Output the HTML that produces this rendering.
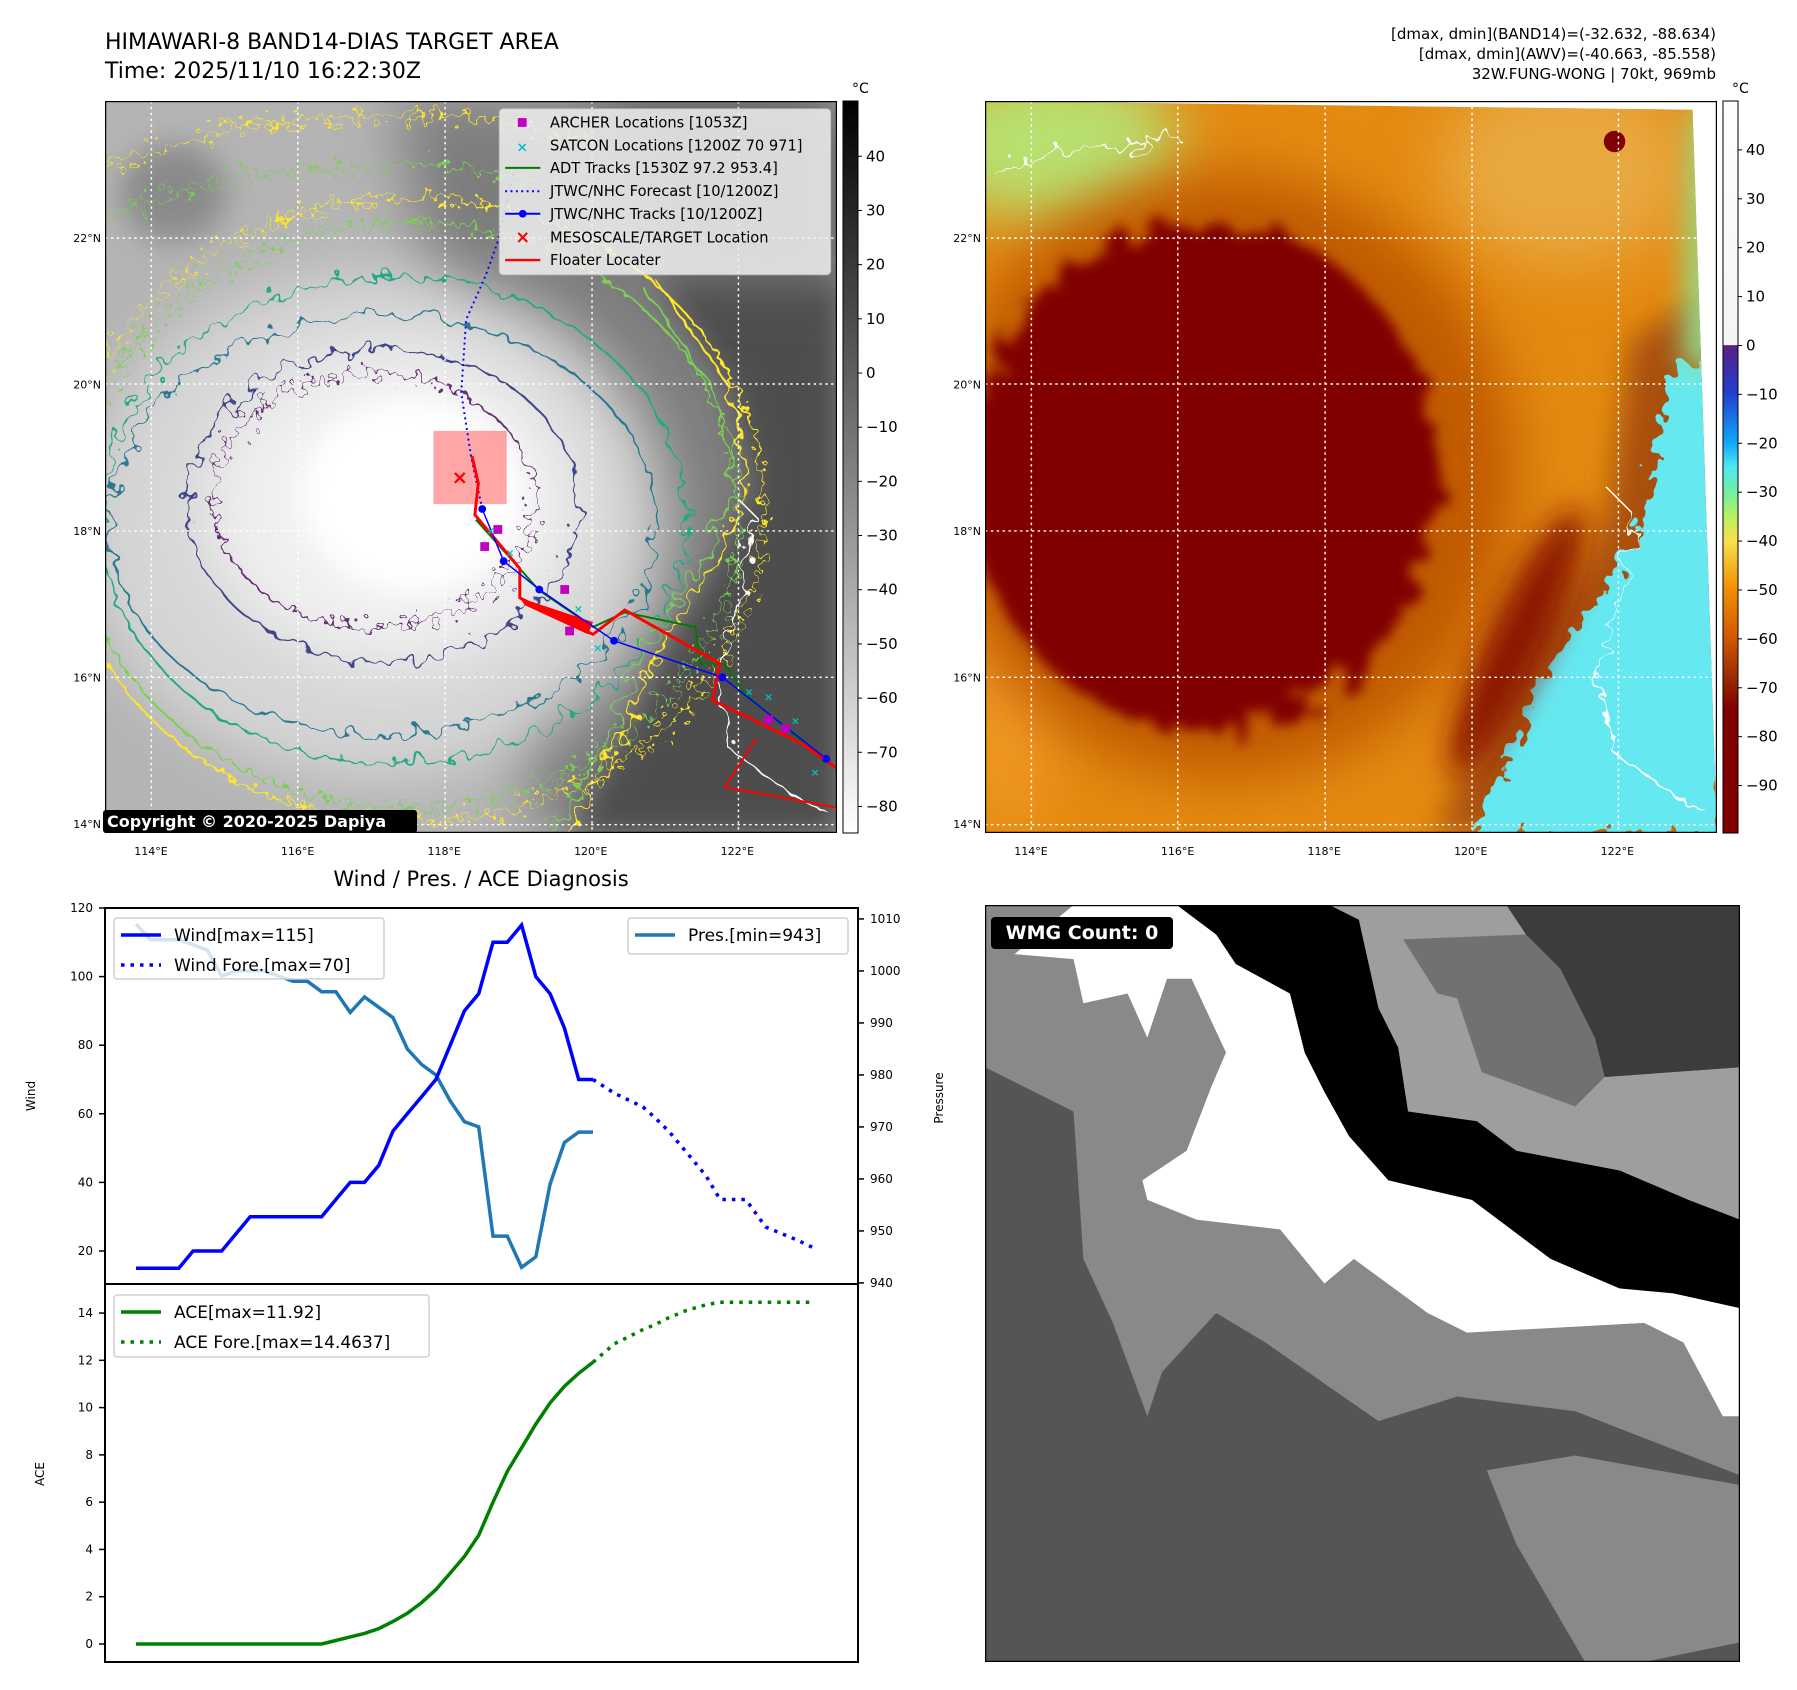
<!DOCTYPE html>
<html><head><meta charset="utf-8">
<style>
html,body{margin:0;padding:0;background:#fff;}
#root{position:relative;width:1797px;height:1690px;overflow:hidden;background:#fff;font-family:"DejaVu Sans","Liberation Sans",sans-serif;}
.abs{position:absolute;}
</style></head>
<body>
<div id="root">

<div class="abs" style="left:105px;top:28px;font-size:22px;line-height:29px;color:#000;">HIMAWARI-8 BAND14-DIAS TARGET AREA<br>Time: 2025/11/10 16:22:30Z</div>
<div class="abs" style="right:81px;top:24px;font-size:15px;line-height:20px;text-align:right;color:#000;">[dmax, dmin](BAND14)=(-32.632, -88.634)<br>[dmax, dmin](AWV)=(-40.663, -85.558)<br>32W.FUNG-WONG | 70kt, 969mb</div>

<!-- LEFT MAP -->
<svg class="abs" style="left:105px;top:101px" width="732" height="732" viewBox="10 12 1500 1500" preserveAspectRatio="none">
<defs>
<filter id="blur30" filterUnits="userSpaceOnUse" x="-600" y="-600" width="2800" height="2800"><feGaussianBlur stdDeviation="30"/></filter>
<filter id="blur60" filterUnits="userSpaceOnUse" x="-600" y="-600" width="2800" height="2800"><feGaussianBlur stdDeviation="60"/></filter>
<filter id="wig" filterUnits="userSpaceOnUse" x="-600" y="-600" width="2800" height="2800"><feTurbulence type="fractalNoise" baseFrequency="0.03" numOctaves="2" seed="3"/><feDisplacementMap in="SourceGraphic" scale="60"/></filter>
<filter id="wig2" filterUnits="userSpaceOnUse" x="-600" y="-600" width="2800" height="2800"><feTurbulence type="fractalNoise" baseFrequency="0.05" numOctaves="2" seed="7"/><feDisplacementMap in="SourceGraphic" scale="80"/></filter>
<clipPath id="mclip"><rect x="10" y="12" width="1500" height="1500"/></clipPath>
</defs>
<g clip-path="url(#mclip)">
<rect x="0" y="0" width="1520" height="1520" fill="#b4b4b4"/>
<path d="M600,0 L1520,0 L1520,1520 L900,1520 Z" fill="#7d7d7d" filter="url(#blur60)"/>
<path d="M1150,380 L1290,600 L1340,800 L1270,950 L1150,1120 L1080,1300 L960,1520 L1520,1520 L1520,380 Z" fill="#4e4e4e" filter="url(#blur30)"/>
<path d="M1000,0 L1520,0 L1520,400 L1200,380 Z" fill="#5e5e5e" filter="url(#blur60)"/>
<ellipse cx="560" cy="880" rx="600" ry="520" fill="#d6d6d6" filter="url(#blur60)"/>
<ellipse cx="600" cy="840" rx="380" ry="330" fill="#f0f0f0" filter="url(#blur60)"/>
<ellipse cx="640" cy="820" rx="230" ry="200" fill="#ffffff" filter="url(#blur30)"/>
<ellipse cx="150" cy="200" rx="110" ry="100" fill="#8a8a8a" filter="url(#blur30)"/>
<g fill="none" stroke-width="4">
<ellipse cx="640" cy="850" rx="720" ry="640" stroke="#fde725" filter="url(#wig2)"/>
<ellipse cx="630" cy="860" rx="680" ry="600" stroke="#7ad151" filter="url(#wig2)"/>
<ellipse cx="600" cy="870" rx="600" ry="500" stroke="#22a884" filter="url(#wig)"/>
<ellipse cx="580" cy="880" rx="560" ry="430" stroke="#2a788e" filter="url(#wig)"/>
<ellipse cx="580" cy="840" rx="400" ry="320" stroke="#414487" filter="url(#wig)"/>
<ellipse cx="560" cy="830" rx="330" ry="260" stroke="#440154" filter="url(#wig2)" opacity="0.8"/>
<path d="M1140,380 L1290,600 L1330,800 L1270,950 L1150,1120 L1080,1300 L960,1510" stroke="#fde725" filter="url(#wig)"/>
<path d="M1120,400 L1260,610 L1300,800 L1240,950 L1120,1120 L1050,1300 L930,1510" stroke="#7ad151" filter="url(#wig)"/>
<path d="M0,150 L300,60 L700,40 L1000,80" stroke="#fde725" filter="url(#wig2)"/>
<path d="M0,250 L300,160 L700,140 L1000,200" stroke="#7ad151" filter="url(#wig2)"/>
<path d="M1300,820 L1340,860 L1320,1000 L1260,1200 L1300,1350 L1400,1420 L1500,1480" stroke="#fff" stroke-width="3" filter="url(#wig)"/>
</g>
</g>
<g stroke="#fff" stroke-width="3" stroke-dasharray="5 7">
<line x1="105" y1="12" x2="105" y2="1512"/><line x1="405" y1="12" x2="405" y2="1512"/><line x1="707" y1="12" x2="707" y2="1512"/><line x1="1008" y1="12" x2="1008" y2="1512"/><line x1="1308" y1="12" x2="1308" y2="1512"/>
<line x1="10" y1="293" x2="1510" y2="293"/><line x1="10" y1="592" x2="1510" y2="592"/><line x1="10" y1="893" x2="1510" y2="893"/><line x1="10" y1="1193" x2="1510" y2="1193"/><line x1="10" y1="1495" x2="1510" y2="1495"/>
</g>
<rect x="683" y="688" width="150" height="150" fill="#ff5050" opacity="0.5"/>
<polyline points="783,848 760,740 740,610 750,460 790,370 815,300 830,230 850,150" fill="none" stroke="#0000ff" stroke-width="4" stroke-dasharray="4 7"/>
<polyline points="770,870 900,1015 1010,1090 1075,1060 1220,1090 1230,1165 1280,1165 1320,1225 1490,1370" fill="none" stroke="#007a00" stroke-width="4"/>
<polyline points="762,740 775,795 768,860 860,970 860,1030 1010,1105 1075,1055 1270,1165 1255,1240 1440,1330 1510,1380" fill="none" stroke="#ff0000" stroke-width="6"/>
<path d="M860,1030 L1010,1080 L1000,1105 L870,1045 Z" fill="#ff0000"/>
<polyline points="1345,1318 1280,1418 1510,1460 M1345,1318 1510,1420" fill="none" stroke="#ff0000" stroke-width="4"/>
<polyline points="783,848 827,955 900,1013 1053,1118 1275,1193 1488,1360" fill="none" stroke="#0000ff" stroke-width="3"/>
<g fill="#0000ff"><circle cx="783" cy="848" r="8"/><circle cx="827" cy="955" r="8"/><circle cx="900" cy="1013" r="8"/><circle cx="1053" cy="1118" r="8"/><circle cx="1275" cy="1193" r="8"/><circle cx="1488" cy="1360" r="8"/></g>
<g fill="#c000c0"><rect x="806" y="881" width="18" height="18"/><rect x="779" y="916" width="18" height="18"/><rect x="943" y="1004" width="18" height="18"/><rect x="953" y="1089" width="18" height="18"/><rect x="1361" y="1271" width="18" height="18"/><rect x="1396" y="1289" width="18" height="18"/></g>
<g fill="#00c0c0" font-size="22" font-weight="bold" text-anchor="middle"><text x="800" y="900">×</text><text x="840" y="945">×</text><text x="980" y="1060">×</text><text x="1020" y="1140">×</text><text x="1330" y="1230">×</text><text x="1370" y="1240">×</text><text x="1425" y="1290">×</text><text x="1465" y="1395">×</text></g>
<text x="737" y="797" fill="#ff0000" font-size="40" font-weight="bold" text-anchor="middle">×</text>
<g>
<rect x="818" y="28" width="679" height="340" rx="8" fill="#f0f0f0" opacity="0.85" stroke="#ccc" stroke-width="2"/>
<g font-size="30" fill="#000" font-family="DejaVu Sans, sans-serif">
<rect x="856" y="47" width="18" height="18" fill="#c000c0"/><text x="922" y="66">ARCHER Locations [1053Z]</text>
<text x="865" y="115" fill="#00c0c0" font-size="28" font-weight="bold" text-anchor="middle">×</text><text x="922" y="113">SATCON Locations [1200Z 70 971]</text>
<line x1="830" y1="149" x2="902" y2="149" stroke="#007a00" stroke-width="4"/><text x="922" y="160">ADT Tracks [1530Z 97.2 953.4]</text>
<line x1="830" y1="197" x2="902" y2="197" stroke="#0000ff" stroke-width="4" stroke-dasharray="4 7"/><text x="922" y="207">JTWC/NHC Forecast [10/1200Z]</text>
<line x1="830" y1="243" x2="902" y2="243" stroke="#0000ff" stroke-width="4"/><circle cx="866" cy="243" r="8" fill="#0000ff"/><text x="922" y="254">JTWC/NHC Tracks [10/1200Z]</text>
<text x="866" y="303" fill="#ff0000" font-size="36" font-weight="bold" text-anchor="middle">×</text><text x="922" y="302">MESOSCALE/TARGET Location</text>
<line x1="830" y1="338" x2="902" y2="338" stroke="#ff0000" stroke-width="5"/><text x="922" y="348">Floater Locater</text>
</g></g>
<rect x="10" y="12" width="1500" height="1500" fill="none" stroke="#000" stroke-width="5"/>
</svg>
<div class="abs" style="left:103px;top:810px;width:314px;height:23px;background:#000;color:#fff;font-weight:bold;font-size:16px;line-height:23px;padding-left:4px;box-sizing:border-box;border-radius:3px;">Copyright © 2020-2025 Dapiya</div>

<!-- RIGHT MAP -->
<svg class="abs" style="left:985px;top:101px" width="732" height="732" viewBox="10 12 1500 1500" preserveAspectRatio="none">
<defs>
<filter id="rb30" filterUnits="userSpaceOnUse" x="-600" y="-600" width="2800" height="2800"><feGaussianBlur stdDeviation="30"/></filter>
<filter id="rb60" filterUnits="userSpaceOnUse" x="-600" y="-600" width="2800" height="2800"><feGaussianBlur stdDeviation="60"/></filter>
<filter id="rwig" filterUnits="userSpaceOnUse" x="-600" y="-600" width="2800" height="2800"><feTurbulence type="fractalNoise" baseFrequency="0.03" numOctaves="2" seed="5"/><feDisplacementMap in="SourceGraphic" scale="70"/></filter>
<filter id="rwigb" filterUnits="userSpaceOnUse" x="-600" y="-600" width="2800" height="2800"><feTurbulence type="fractalNoise" baseFrequency="0.02" numOctaves="2" seed="9"/><feDisplacementMap in="SourceGraphic" scale="120"/><feGaussianBlur stdDeviation="12"/></filter>
<clipPath id="rclip"><path d="M10,12 L1460,30 L1510,1512 L10,1512 Z"/></clipPath>
</defs>
<g clip-path="url(#rclip)">
<rect x="0" y="0" width="1520" height="1520" fill="#e48a10"/>
<ellipse cx="150" cy="100" rx="260" ry="160" fill="#b8e070" filter="url(#rb60)"/>
<ellipse cx="1200" cy="150" rx="260" ry="200" fill="#e8a840" filter="url(#rb60)"/>
<ellipse cx="60" cy="1100" rx="120" ry="400" fill="#f09820" filter="url(#rb60)"/>
<path d="M1334,500 L1287,855 L1250,950 L1121,1115 L933,1512 L1510,1512 L1510,400 Z" fill="#a85010" filter="url(#rb30)"/>
<path d="M1420,560 L1360,860 L1300,980 L1180,1140 L1010,1512 L1520,1512 L1520,520 Z" fill="#66e8f0" filter="url(#rwig)"/>
<path d="M1460,30 L1520,30 L1520,560 L1440,560 Z" fill="#90e090" filter="url(#rb30)"/>
<ellipse cx="500" cy="780" rx="600" ry="620" fill="#c05a00" filter="url(#rb60)"/>
<ellipse cx="460" cy="780" rx="480" ry="520" fill="#800000" filter="url(#rwigb)"/>
<ellipse cx="420" cy="820" rx="400" ry="440" fill="#800000" filter="url(#rb30)"/>
<ellipse cx="1100" cy="1120" rx="60" ry="300" fill="#8a1800" filter="url(#rb30)" transform="rotate(25 1100 1120)"/>
<circle cx="1300" cy="95" r="22" fill="#800000"/>
<path d="M1300,820 L1340,860 L1320,1000 L1260,1200 L1300,1350 L1400,1420 L1500,1480" fill="none" stroke="#fff" stroke-width="3" filter="url(#rwig)"/>
<path d="M30,160 L150,120 L300,110 L400,80" fill="none" stroke="#fff" stroke-width="3" filter="url(#rwig)"/>
</g>
<g stroke="#fff" stroke-width="3" stroke-dasharray="5 7">
<line x1="105" y1="12" x2="105" y2="1512"/><line x1="405" y1="12" x2="405" y2="1512"/><line x1="707" y1="12" x2="707" y2="1512"/><line x1="1008" y1="12" x2="1008" y2="1512"/><line x1="1308" y1="12" x2="1308" y2="1512"/>
<line x1="10" y1="293" x2="1510" y2="293"/><line x1="10" y1="592" x2="1510" y2="592"/><line x1="10" y1="893" x2="1510" y2="893"/><line x1="10" y1="1193" x2="1510" y2="1193"/><line x1="10" y1="1495" x2="1510" y2="1495"/>
</g>
<rect x="10" y="12" width="1500" height="1500" fill="none" stroke="#000" stroke-width="5"/>
</svg>

<!-- colorbars -->
<svg class="abs" style="left:0;top:0" width="1797" height="1690">
<defs>
<linearGradient id="gbar" x1="0" y1="0" x2="0" y2="1"><stop offset="0" stop-color="#000"/><stop offset="1" stop-color="#fff"/></linearGradient>
<linearGradient id="cbar" x1="0" y1="0" x2="0" y2="1">
<stop offset="0" stop-color="#ffffff"/><stop offset="0.333" stop-color="#f4f4f4"/>
<stop offset="0.334" stop-color="#5a2080"/><stop offset="0.40" stop-color="#2040d0"/>
<stop offset="0.467" stop-color="#10a8f8"/><stop offset="0.50" stop-color="#50e8f0"/>
<stop offset="0.534" stop-color="#70f0a0"/><stop offset="0.567" stop-color="#b8f060"/>
<stop offset="0.60" stop-color="#f8e050"/><stop offset="0.667" stop-color="#f09000"/>
<stop offset="0.734" stop-color="#d05800"/><stop offset="0.80" stop-color="#902000"/>
<stop offset="0.83" stop-color="#800000"/><stop offset="1" stop-color="#800000"/>
</linearGradient>
</defs>
<rect x="843" y="101" width="15" height="732" fill="url(#gbar)" stroke="#000" stroke-width="1"/>
<rect x="1723" y="101" width="15" height="732" fill="url(#cbar)" stroke="#000" stroke-width="1"/>
<text x="852" y="93" font-size="14" text-anchor="start">°C</text>
<text x="1732" y="93" font-size="14">°C</text>
<g id="cbticks" font-size="15" fill="#000"></g>
<g id="maplabels" font-size="11" fill="#000"></g>
</svg>

<!-- WMG panel -->
<svg class="abs" style="left:985px;top:905px" width="755" height="757" viewBox="0 0 1535 1540" preserveAspectRatio="none">
<rect x="0" y="0" width="1535" height="1540" fill="#555555"/>
<polygon fill="#898989" points="0,0 700,0 1535,600 1535,1160 1200,1030 960,1000 800,1050 570,890 470,830 360,950 330,1040 260,850 200,720 180,420 0,330"/>
<polygon fill="#898989" points="1020,1150 1200,1120 1535,1180 1535,1500 1340,1540 1220,1540 1080,1300"/>
<polygon fill="#ffffff" points="60,100 180,110 200,200 290,180 330,270 370,150 420,150 490,300 460,370 410,500 320,560 330,600 430,640 600,660 690,770 750,720 900,830 980,870 1340,850 1420,890 1500,1040 1535,1040 1535,820 1400,790 1290,780 1150,720 1070,660 990,600 820,560 740,470 690,380 650,300 620,180 510,120 470,60 390,0 180,0"/>
<polygon fill="#9e9e9e" points="700,0 1060,0 1100,60 1170,130 1240,270 1260,350 1535,330 1535,640 1430,600 1290,540 1080,500 1000,440 860,420 840,290 800,210 760,30"/>
<polygon fill="#717171" points="850,70 1100,60 1170,130 1240,270 1260,350 1200,410 1010,340 960,190 920,180"/>
<polygon fill="#3c3c3c" points="1060,0 1535,0 1535,330 1260,350 1240,270 1170,130 1100,60"/>
<polygon fill="#000000" points="390,0 700,0 760,30 800,210 840,290 860,420 1000,440 1080,500 1290,540 1430,600 1535,640 1535,820 1400,790 1290,780 1150,720 1070,660 990,600 820,560 740,470 690,380 650,300 620,180 510,120 470,60"/>
<rect x="0" y="0" width="1535" height="1540" fill="none" stroke="#000" stroke-width="5"/>
</svg>
<div class="abs" style="left:991px;top:917px;width:182px;height:32px;background:#000;color:#fff;font-weight:bold;font-size:19px;line-height:32px;text-align:center;border-radius:4px;">WMG Count: 0</div>

<!-- chart -->
<svg class="abs" id="chart" style="left:0;top:0" width="1797" height="1690"></svg>
</div>

<script>
// ---- chart data ----
var obsT = [0,1,2,3,4,5,6,7,8,9,10,11,12,13,14,15,16,17,18,19,20,21,22,23,24,25,26,27,28,29,30,31,32];
var windObs = [15,15,15,15,20,20,20,25,30,30,30,30,30,30,35,40,40,45,55,60,65,70,80,90,95,110,110,115,100,95,85,70,70];
var presObs = [1009,1006,1006,1006,1005,1004,999,1000,1000,1000,999,998,998,996,996,992,995,993,991,985,982,980,975,971,970,949,949,943,945,959,967,969,969];
var aceObs = [0,0,0,0,0,0,0,0,0,0,0,0,0,0,0.15,0.3,0.45,0.65,0.95,1.3,1.75,2.3,3.0,3.7,4.6,6.0,7.3,8.3,9.3,10.2,10.9,11.45,11.92];
var foreT = [32,33.5,35.5,36.3,37.3,38.5,39.9,40.9,42.7,44.1,46.4,47.4];
var windFore = [70,66,62,59,55,49,42,35,35,27,23,21];
var aceFore = [11.92,12.7,13.3,13.5,13.8,14.1,14.35,14.46,14.46,14.46,14.46,14.46];
var windTicks = [20,40,60,80,100,120];
var presTicks = [940,950,960,970,980,990,1000,1010];
var aceTicks = [0,2,4,6,8,10,12,14];
var irTicks = [40,30,20,10,0,-10,-20,-30,-40,-50,-60,-70,-80];
var awvTicks = [40,30,20,10,0,-10,-20,-30,-40,-50,-60,-70,-80,-90];
var lonTicks = [114,116,118,120,122];
var latTicks = [22,20,18,16,14];

var NS='http://www.w3.org/2000/svg';
function mk(parent,tag,attrs,txt){var e=document.createElementNS(NS,tag);for(var k in attrs)e.setAttribute(k,attrs[k]);if(txt!==undefined)e.textContent=txt;parent.appendChild(e);return e;}
var L=105,R=858,T=908,M=1284,B=1662,XMIN=-2.17,XMAX=50.56;
function xs(t){return L+(t-XMIN)/(XMAX-XMIN)*(R-L);}
function wy(v){return T+(120-v)*3.43;}
function py(v){return T+(1012.1-v)*5.2;}
function ay(v){return 1644-v*23.64;}
function pts(ts,vs,f){return ts.map(function(t,i){return xs(t).toFixed(1)+','+f(vs[i]).toFixed(1);}).join(' ');}

var c=document.getElementById('chart');
var ttl=mk(c,'text',{x:481,y:886,'font-size':21,'text-anchor':'middle'},'Wind / Pres. / ACE Diagnosis');


var g=mk(c,'g',{'font-size':12,fill:'#000'});
windTicks.forEach(function(v){var y=wy(v);mk(g,'line',{x1:L-6,x2:L,y1:y,y2:y,stroke:'#000','stroke-width':1.5});var t=mk(g,'text',{x:L-12,y:y+4,'text-anchor':'end'},String(v));});
presTicks.forEach(function(v){var y=py(v);mk(g,'line',{x1:R,x2:R+6,y1:y,y2:y,stroke:'#000','stroke-width':1.5});var t=mk(g,'text',{x:R+12,y:y+4},String(v));});
aceTicks.forEach(function(v){var y=ay(v);mk(g,'line',{x1:L-6,x2:L,y1:y,y2:y,stroke:'#000','stroke-width':1.5});var t=mk(g,'text',{x:L-12,y:y+4,'text-anchor':'end'},String(v));});
var yl=mk(c,'text',{x:35,y:1096,'font-size':12,'text-anchor':'middle',transform:'rotate(-90 35 1096)'},'Wind');


var pl=mk(c,'text',{x:943,y:1098,'font-size':12,'text-anchor':'middle',transform:'rotate(-90 943 1098)'},'Pressure');


var al=mk(c,'text',{x:44,y:1474,'font-size':12,'text-anchor':'middle',transform:'rotate(-90 44 1474)'},'ACE');



var l1=mk(c,'polyline',{points:pts(obsT,presObs,py),fill:'none',stroke:'#1f77b4','stroke-width':3.5});


var l2=mk(c,'polyline',{points:pts(obsT,windObs,wy),fill:'none',stroke:'#0000ff','stroke-width':3.5});


var l3=mk(c,'polyline',{points:pts(foreT,windFore,wy),fill:'none',stroke:'#0000ff','stroke-width':3.5,'stroke-dasharray':'3.5 6'});


var l4=mk(c,'polyline',{points:pts(obsT,aceObs,ay),fill:'none',stroke:'#008000','stroke-width':3.5});


var l5=mk(c,'polyline',{points:pts(foreT,aceFore,ay),fill:'none',stroke:'#008000','stroke-width':3.5,'stroke-dasharray':'3.5 6'});


mk(c,'rect',{x:L,y:T,width:R-L,height:B-T,fill:'none',stroke:'#000','stroke-width':2});
mk(c,'line',{x1:L,x2:R,y1:M,y2:M,stroke:'#000','stroke-width':2});

function legend(name,x,y,w,h,items){
  var lg=mk(c,'g',{});
  
  
  mk(lg,'rect',{x:x,y:y,width:w,height:h,rx:3,fill:'#fff','fill-opacity':0.8,stroke:'#d0d0d0','stroke-width':1.5});
  items.forEach(function(it,i){var yy=y+17+i*30;mk(lg,'line',{x1:x+7,x2:x+47,y1:yy,y2:yy,stroke:it[1],'stroke-width':3.5,'stroke-dasharray':it[2]?'3.5 6':'none'});mk(lg,'text',{x:x+60,y:yy+6,'font-size':17},it[0]);});
}
legend('wind-legend',114,918,270,61,[['Wind[max=115]','#0000ff',false],['Wind Fore.[max=70]','#0000ff',true]]);
legend('pressure-legend',628,918,220,36,[['Pres.[min=943]','#1f77b4',false]]);
legend('ace-legend',114,1295,315,62,[['ACE[max=11.92]','#008000',false],['ACE Fore.[max=14.4637]','#008000',true]]);

var cb=document.getElementById('cbticks');
irTicks.forEach(function(v){var y=101+(50.2-v)*(732/135.1);mk(cb,'line',{x1:858,x2:862,y1:y,y2:y,stroke:'#000'});var t=mk(cb,'text',{x:866,y:y+5},v<0?'\u2212'+(-v):String(v));});
awvTicks.forEach(function(v){var y=101+(50-v)*(732/149.7);mk(cb,'line',{x1:1738,x2:1742,y1:y,y2:y,stroke:'#000'});var t=mk(cb,'text',{x:1746,y:y+5},v<0?'\u2212'+(-v):String(v));});
var ml=document.getElementById('maplabels');
[0,880].forEach(function(off){
  lonTicks.forEach(function(lon){var x=off+151+(lon-114)*73.3;var t=mk(ml,'text',{x:x,y:855,'text-anchor':'middle'},lon+'°E');});
  latTicks.forEach(function(lat){var y=238+(22-lat)*73.25;var t=mk(ml,'text',{x:off+101,y:y+4,'text-anchor':'end'},lat+'°N');});
});
</script>
</body></html>
